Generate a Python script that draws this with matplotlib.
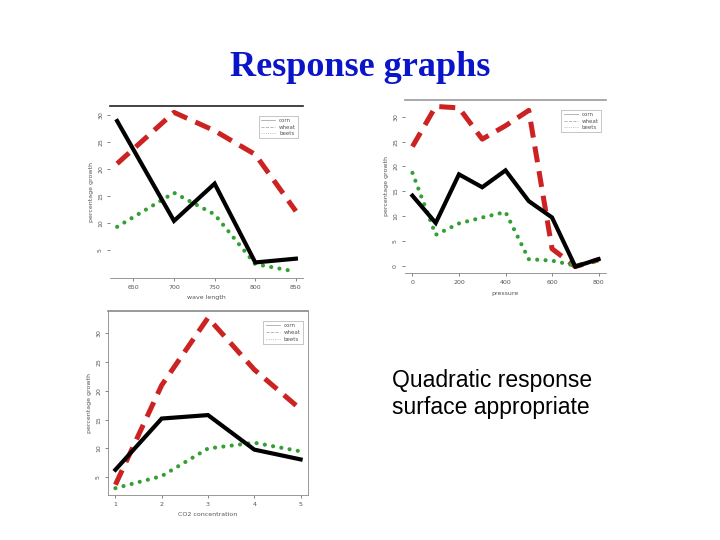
import matplotlib
matplotlib.use("Agg")
import matplotlib.pyplot as plt
from matplotlib.lines import Line2D

# ---------------- data ----------------
legend_labels = ["corn", "wheat", "beets"]

p1_x = [630, 700, 750, 800, 850]
p1_black = [28.9, 10.4, 17.3, 2.7, 3.4]
p1_red = [21.0, 30.5, 27.1, 22.7, 12.2]
p1_green = [9.3, 15.6, 11.6, 2.4, 1.0]
p1_xticks = [650, 700, 750, 800, 850]
p1_yticks = [5, 10, 15, 20, 25, 30]

p2_x = [0, 100, 200, 300, 400, 500, 600, 700, 800]
p2_black = [14.1, 8.6, 18.4, 15.8, 19.2, 13.0, 9.7, -0.2, 1.3]
p2_red = [24.0, 32.1, 31.8, 25.5, 28.2, 31.3, 3.4, -0.2, 1.2]
p2_green = [18.7, 6.2, 8.5, 9.7, 10.8, 1.3, 1.0, 0.0, 1.0]
p2_xticks = [0, 200, 400, 600, 800]
p2_yticks = [0, 5, 10, 15, 20, 25, 30]

p3_x = [1, 2, 3, 4, 5]
p3_black = [6.3, 15.2, 15.8, 9.8, 8.1]
p3_red = [3.7, 21.0, 32.7, 23.7, 16.8]
p3_green = [3.1, 5.2, 10.0, 11.0, 9.5]
p3_xticks = [1, 2, 3, 4, 5]
p3_yticks = [5, 10, 15, 20, 25, 30]

RED = "#cc2222"
GREEN = "#33a033"
GRAY = "#888888"

fig = plt.figure(figsize=(7.2, 5.4), dpi=100)
fig.patch.set_facecolor("white")

fig.text(0.5, 1 - 68 / 540, "Response graphs", ha="center", va="center",
         fontsize=26, fontweight="bold", color="#0a14c8",
         family=["Liberation Serif", "DejaVu Serif"])
fig.text(392 / 720, 1 - 394 / 540, "Quadratic response\nsurface appropriate",
         ha="left", va="center", fontsize=16.5, color="black",
         family=["Liberation Sans", "DejaVu Sans"], linespacing=1.2)


def panel(rect, x, black, red, green, xticks, yticks, xlabel, spines, top_color):
    ax = fig.add_axes(rect)
    ax.plot(x, red, color=RED, lw=3.6, dashes=(3.2, 1.8), solid_capstyle="butt",
            dash_capstyle="butt")
    ax.plot(x, green, color=GREEN, lw=3.0, dashes=(0.01, 2.0),
            dash_capstyle="round")
    ax.plot(x, black, color="black", lw=3.0, solid_joinstyle="miter")
    xr = max(x) - min(x)
    allv = black + red + green
    yr = max(allv) - min(allv)
    ax.set_xlim(min(x) - 0.04 * xr, max(x) + 0.04 * xr)
    ax.set_ylim(min(allv) - 0.04 * yr, max(allv) + 0.04 * yr)
    ax.set_xticks(xticks)
    ax.set_xticklabels([str(t) for t in xticks])
    ax.set_yticks(yticks)
    ax.set_yticklabels([str(t) for t in yticks], rotation=90, va="center")
    ax.tick_params(labelsize=4.5, colors="#555555", length=2, width=0.5,
                   pad=3)
    ax.set_xlabel(xlabel, fontsize=4.5, color="#555555", labelpad=4)
    ax.set_ylabel("percentage growth", fontsize=4.5, color="#555555",
                  labelpad=3)
    for s in ["left", "right", "top", "bottom"]:
        ax.spines[s].set_visible(s in spines)
        ax.spines[s].set_color(GRAY)
        ax.spines[s].set_linewidth(0.6)
    if "top" in spines:
        ax.spines["top"].set_color(top_color)
        ax.spines["top"].set_linewidth(1.2)
    handles = [Line2D([], [], color="#aaaaaa", lw=0.6, ls="-"),
               Line2D([], [], color="#aaaaaa", lw=0.6, ls="--"),
               Line2D([], [], color="#aaaaaa", lw=0.6, ls=":")]
    leg = ax.legend(handles, legend_labels, loc="upper right", fontsize=4,
                    frameon=True, fancybox=False, handlelength=2.5,
                    borderpad=0.4, labelspacing=0.3,
                    bbox_to_anchor=(0.99, 0.96))
    leg.get_frame().set_edgecolor("#999999")
    leg.get_frame().set_linewidth(0.5)
    for t in leg.get_texts():
        t.set_color("#555555")
    return ax


panel([110 / 720, 1 - 278 / 540, 193 / 720, 172 / 540],
      p1_x, p1_black, p1_red, p1_green, p1_xticks, p1_yticks,
      "wave length", ["top", "bottom"], "#222222")
panel([405 / 720, 1 - 273 / 540, 201 / 720, 173 / 540],
      p2_x, p2_black, p2_red, p2_green, p2_xticks, p2_yticks,
      "pressure", ["top", "bottom"], "#999999")
panel([108 / 720, 1 - 495 / 540, 200 / 720, 184 / 540],
      p3_x, p3_black, p3_red, p3_green, p3_xticks, p3_yticks,
      "CO2 concentration", ["left", "right", "top", "bottom"], "#888888")

fig.savefig("out.png", dpi=100, facecolor="white")
